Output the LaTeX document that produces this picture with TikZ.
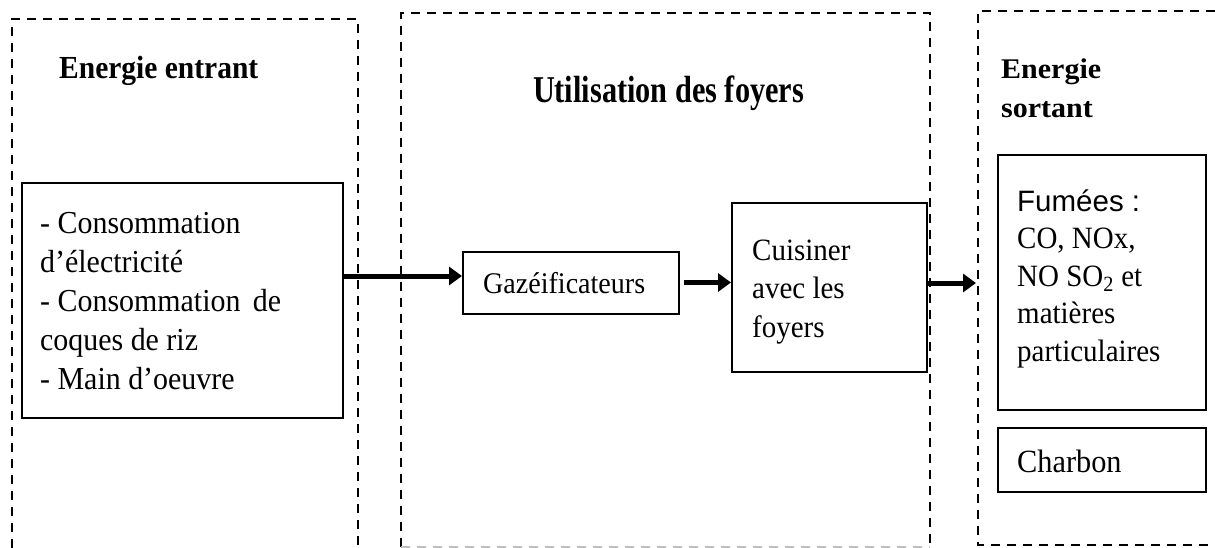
\documentclass[tikz,border=0pt]{standalone}
\usepackage{fontspec}
\usepackage{graphicx}
\setmainfont{Liberation Serif}
\setsansfont{Liberation Sans}
\newfontfamily\bodyfont{Liberation Serif}[FakeStretch=0.935]
\usetikzlibrary{arrows.meta}
\begin{document}
\begin{tikzpicture}[x=1pt,y=-1pt,
  zone/.style={line width=2.2pt, dash pattern=on 9pt off 7pt},
  zonefaint/.style={zone, draw=black!25},
  box/.style={draw, line width=2pt, inner sep=0pt, rectangle},
  body/.style={inner sep=0pt, align=left},
  title/.style={inner sep=0pt},
  arr/.style={line width=5pt, -{Triangle[length=13pt,width=18pt]}},
]
\useasboundingbox (0,0) rectangle (1215,548);

% the three dashed zones
\draw[zone] (12,548) -- (12,19) -- (358,19) -- (358,548);
\draw[zone] (401,547) -- (401,13) -- (930,13) -- (930,547);
\draw[zonefaint] (401,547) -- (930,547);
\draw[zone] (1215,11) -- (978,11) -- (978,545) -- (1215,545);

% zone titles
\node[title, anchor=base west, font=\bfseries\fontsize{29.5}{36}\selectfont] (tin) at (59,79)
  {\scalebox{1}[1.09]{Energie entrant}};
\node[title, anchor=base, font=\bfseries\fontsize{30.3}{36}\selectfont] (tuse) at (668.5,103)
  {\scalebox{1}[1.25]{Utilisation des foyers}};
\node[title, anchor=base west, font=\bfseries\fontsize{30}{39}\selectfont] (tout) at (1001,79)
  {\scalebox{1}[0.95]{Energie}};
\node[title, anchor=base west, font=\bfseries\fontsize{30}{39}\selectfont] (tout2) at (1001,118)
  {\scalebox{1}[0.95]{sortant}};

% boxes
\node[box, minimum width=321pt, minimum height=235pt] (inbox) at (182.5,300.5) {};
\node[box, minimum width=216pt, minimum height=62pt] (gaz) at (571,282.5) {};
\node[box, minimum width=195pt, minimum height=169pt] (cuis) at (829.5,287.5) {};
\node[box, minimum width=208pt, minimum height=255pt] (fum) at (1102,282.5) {};
\node[box, minimum width=208pt, minimum height=64pt] (charb) at (1102,460) {};

% box texts
\node[body, anchor=north west, font=\bodyfont\fontsize{32}{39}\selectfont] (intxt) at (40,206)
  {\rule{0pt}{27pt}- Consommation\\d’électricité\\- Consommation\hspace{5pt} de\\coques de riz\\- Main d’oeuvre};
\node[body, anchor=base west, font=\bodyfont\fontsize{30}{36}\selectfont] (gaztxt) at (483,293)
  {Gazéificateurs};
\node[body, anchor=north west, font=\bodyfont\fontsize{31}{38.5}\selectfont] (cuistxt) at (752,233)
  {\rule{0pt}{27pt}Cuisiner\\avec les\\foyers};
\node[body, anchor=north west, font=\bodyfont\fontsize{31}{37.5}\selectfont] (fumtxt) at (1017,184)
  {\rule{0pt}{27pt}{\sffamily\fontsize{29.5}{37.5}\selectfont Fumées :}\\CO, NOx,\\NO SO\textsubscript{2} et\\matières\\particulaires};
\node[body, anchor=base west, font=\bodyfont\fontsize{32.4}{36}\selectfont] (charbtxt) at (1017,472)
  {Charbon};

% flow arrows
\coordinate (y1) at (0,276);
\coordinate (y3) at (0,283);
\coordinate (outzone) at (976,283);
\draw[arr] (inbox.east |- y1) -- (gaz.west |- y1);
\draw[arr] ([xshift=4pt]gaz.east) -- (cuis.west |- gaz.east);
\draw[arr] (cuis.east |- y3) -- (outzone);
\end{tikzpicture}
\end{document}
